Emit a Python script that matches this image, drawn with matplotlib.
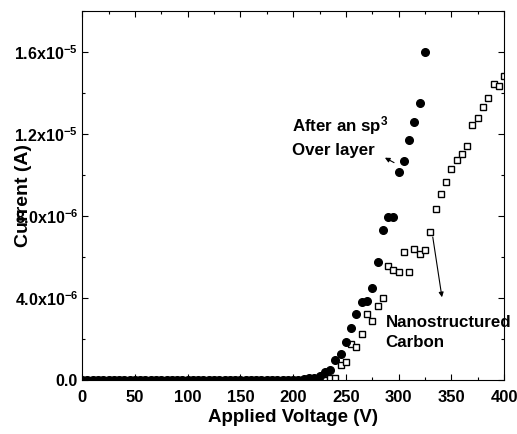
import matplotlib
matplotlib.use("Agg")
import matplotlib.pyplot as plt
from matplotlib.ticker import MultipleLocator, FixedLocator

plt.rcParams['font.family'] = ['Liberation Sans', 'DejaVu Sans']
plt.rcParams['mathtext.fontset'] = 'custom'
plt.rcParams['mathtext.rm'] = 'Liberation Sans:bold'
plt.rcParams['mathtext.default'] = 'rm'

# sp3 over layer (filled circles), current in 1e-6 A
sp3_v = list(range(0, 210, 5)) + [210, 215, 220, 225, 230, 235, 240, 245, 250, 255, 260, 265, 270,
                                   275, 280, 285, 290, 295, 300, 305, 310, 315, 320, 325]
sp3_i = [0.0] * 42 + [0.05, 0.08, 0.11, 0.2, 0.41, 0.49, 0.96, 1.25, 1.86, 2.52, 3.21, 3.78, 3.86,
                      4.48, 5.73, 7.31, 7.96, 7.96, 10.12, 10.66, 11.72, 12.58, 13.48, 16.0]

# nanostructured carbon (open squares), current in 1e-6 A
nc_v = list(range(0, 230, 5)) + [230, 235, 240, 245, 250, 255, 260, 265, 270, 275, 280, 285, 290,
                                  295, 300, 305, 310, 315, 320, 325, 330, 335, 340, 345, 350, 355,
                                  360, 365, 370, 375, 380, 385, 390, 395, 400]
nc_i = [0.0] * 46 + [0.02, 0.08, 0.08, 0.75, 0.86, 1.74, 1.61, 2.26, 3.21, 2.88, 3.61, 4.02, 5.57,
                     5.34, 5.26, 6.23, 5.26, 6.38, 6.15, 6.32, 7.21, 8.32, 9.08, 9.64, 10.30, 10.71,
                     11.02, 11.39, 12.42, 12.79, 13.31, 13.72, 14.44, 14.32, 14.84]

y_ticks = [0, 4e-6, 8e-6, 1.2e-5, 1.6e-5]
y_tick_labels = ['0.0', r'4.0x10$^{-6}$', r'8.0x10$^{-6}$', r'1.2x10$^{-5}$', r'1.6x10$^{-5}$']

fig = plt.figure(figsize=(5.17, 4.34), dpi=100)
ax = fig.add_axes([0.159, 0.1244, 0.816, 0.851])

ax.plot(nc_v, [v * 1e-6 for v in nc_i], 's', markerfacecolor='white', markeredgecolor='black',
        markersize=5, markeredgewidth=1.0, linestyle='none', zorder=2)
ax.plot(sp3_v, [v * 1e-6 for v in sp3_i], 'o', color='black', markersize=5.5, linestyle='none',
        zorder=3)

ax.set_xlim(0, 400)
ax.set_ylim(0, 1.8e-5)
ax.xaxis.set_major_locator(MultipleLocator(50))
ax.xaxis.set_minor_locator(MultipleLocator(25))
ax.yaxis.set_major_locator(FixedLocator(y_ticks))
ax.yaxis.set_minor_locator(MultipleLocator(2e-6))
ax.set_yticklabels(y_tick_labels)
ax.tick_params(which='both', direction='in', top=True, right=True)
ax.tick_params(which='major', length=4, width=0.8)
ax.tick_params(which='minor', length=2.5, width=0.8)
ax.tick_params(axis='x', labelsize=12, pad=7)
ax.tick_params(axis='y', labelsize=11.5, pad=3)
for lab in ax.get_xticklabels() + ax.get_yticklabels():
    lab.set_fontweight('bold')

ax.set_xlabel('Applied Voltage (V)', fontsize=13.5, fontweight='bold', labelpad=3)
ax.set_ylabel('Current (A)', fontsize=14, fontweight='bold')
ax.yaxis.set_label_coords(-0.12, 0.5)

ax.text(199, 12.94e-6, 'After an sp$^{3}$\nOver layer', fontsize=12.2, fontweight='bold',
        va='top', ha='left', linespacing=1.45)
ax.annotate('', xy=(284.7, 10.9e-6), xytext=(298, 10.53e-6),
            arrowprops=dict(arrowstyle='-|>', color='black', lw=0.8, mutation_scale=7))
ax.text(287.5, 3.17e-6, 'Nanostructured\nCarbon', fontsize=12.2, fontweight='bold',
        va='top', ha='left', linespacing=1.45)
ax.annotate('', xy=(341.5, 3.9e-6), xytext=(332, 7.1e-6),
            arrowprops=dict(arrowstyle='-|>', color='black', lw=0.8, mutation_scale=7))

fig.savefig('out.png', dpi=100)
